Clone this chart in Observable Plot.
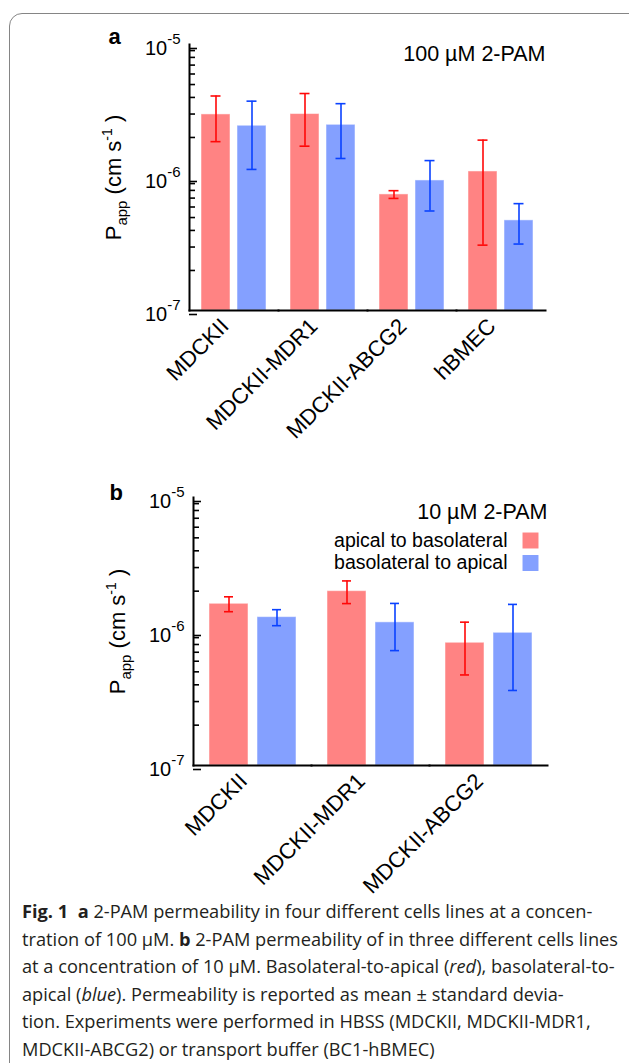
<!DOCTYPE html>
<html>
<head>
<meta charset="utf-8">
<script src="https://cdn.jsdelivr.net/npm/d3@7"></script>
<script src="https://cdn.jsdelivr.net/npm/@observablehq/plot@0.6"></script>
<style>
html, body { margin: 0; padding: 0; background: #fff; overflow: hidden; }
body { width: 629px; height: 1063px; position: relative; font-family: "Liberation Sans", Arial, sans-serif; }
#frame { position: absolute; left: 9px; top: 13px; width: 640px; height: 1070px; border: 1.4px solid #858585; border-radius: 13px; box-sizing: border-box; }
#panelA { position: absolute; left: 0; top: 0; }
#panelB { position: absolute; left: 0; top: 450px; }
#caption { position: absolute; left: 22px; top: 898px; font-family: "Open Sans", "Noto Sans", sans-serif; color: #231f20; line-height: 27.5px; white-space: nowrap; font-size: 17.5px; transform-origin: 0 0; }
#caption div { white-space: nowrap; }
</style>
</head>
<body>
<div id="frame"></div>
<div id="panelA"></div>
<div id="panelB"></div>
<div id="caption">
<div class="cl"><b>Fig. 1</b>&nbsp; <b>a</b> 2-PAM permeability in four different cells lines at a concen-</div>
<div class="cl">tration of 100 µM. <b>b</b> 2-PAM permeability of in three different cells lines</div>
<div class="cl">at a concentration of 10 µM. Basolateral-to-apical (<i>red</i>), basolateral-to-</div>
<div class="cl">apical (<i>blue</i>). Permeability is reported as mean ± standard devia-</div>
<div class="cl">tion. Experiments were performed in HBSS (MDCKII, MDCKII-MDR1,</div>
<div class="cl">MDCKII-ABCG2) or transport buffer (BC1-hBMEC)</div>
</div>
<script>
// ---- data ----
const directions = ["apical to basolateral", "basolateral to apical"];

const cellsA = ["MDCKII", "MDCKII-MDR1", "MDCKII-ABCG2", "hBMEC"];
const meanA_apBa = [2.98e-6, 3.00e-6, 0.746e-6, 1.11e-6];
const sdA_apBa   = [1.12e-6, 1.28e-6, 0.05e-6, 0.80e-6];
const meanA_baAp = [2.45e-6, 2.49e-6, 0.95e-6, 0.476e-6];
const sdA_baAp   = [1.30e-6, 1.10e-6, 0.39e-6, 0.16e-6];

const cellsB = ["MDCKII", "MDCKII-MDR1", "MDCKII-ABCG2"];
const meanB_apBa = [1.61e-6, 2.00e-6, 0.824e-6];
const sdB_apBa   = [0.205e-6, 0.385e-6, 0.35e-6];
const meanB_baAp = [1.28e-6, 1.17e-6, 0.978e-6];
const sdB_baAp   = [0.175e-6, 0.45e-6, 0.615e-6];

const titleA = "100 µM 2-PAM";
const titleB = "10 µM 2-PAM";
const yLabel = "P_app (cm s^-1)";
const yDomain = [1e-7, 1e-5];
const majorTicks = [1e-7, 1e-6, 1e-5];
const minorTicks = majorTicks.slice(0, -1).flatMap(t => d3.range(2, 10).map(k => k * t));
const seriesColors = ["#ff0808", "#0a42ff"];

function rows(cells, m1, s1, m2, s2) {
  return cells.flatMap((c, i) => [
    {cell: c, dir: directions[0], mean: m1[i], lo: m1[i] - s1[i], hi: m1[i] + s1[i]},
    {cell: c, dir: directions[1], mean: m2[i], lo: m2[i] - s2[i], hi: m2[i] + s2[i]}
  ]);
}

function panel(o) {
  const marks = [
    Plot.barY(o.data, {fx: "cell", x: "dir", y1: yDomain[0], y2: "mean", fill: "dir", fillOpacity: 0.5, stroke: "#fff", strokeOpacity: 0.5, strokeWidth: 1}),
    Plot.ruleX(o.data, {fx: "cell", x: "dir", y1: "lo", y2: "hi", stroke: "dir", strokeWidth: 1.6}),
    Plot.tickY(o.data, {fx: "cell", x: "dir", y: "hi", stroke: "dir", strokeWidth: 1.6, insetLeft: o.cap, insetRight: o.cap}),
    Plot.tickY(o.data, {fx: "cell", x: "dir", y: "lo", stroke: "dir", strokeWidth: 1.6, insetLeft: o.cap, insetRight: o.cap}),
    Plot.frame({anchor: "bottom", strokeWidth: 2, stroke: "#000"}),
    Plot.frame({anchor: "left", facetAnchor: "left", strokeWidth: 2, stroke: "#000"}),
    Plot.axisY(minorTicks, {anchor: "left", tickSize: -6, tickFormat: () => "", strokeWidth: 1.6, label: null}),
    Plot.axisY(majorTicks, {anchor: "left", tickSize: -8, tickPadding: 17, tickFormat: d => "10^" + Math.round(Math.log10(d)), fontSize: 20, strokeWidth: 1.6, dy: 4, label: null}),
    Plot.axisFx({anchor: "bottom", tickRotate: -45, tickSize: 0, tickPadding: 12, fontSize: 22, label: null, dx: -9}),
    Plot.text([yLabel], {text: d => d, frameAnchor: "left", facetAnchor: "left", rotate: -90, textAnchor: "middle", lineAnchor: "bottom", dx: -69, fontSize: 22}),
    Plot.text([o.letter], {text: d => d, frameAnchor: "top-left", facetAnchor: "left", textAnchor: "start", lineAnchor: "bottom", dx: o.letterDx, dy: o.letterDy, fontSize: 22, fontWeight: "bold"}),
    Plot.text([o.title], {text: d => d, frameAnchor: "top-right", facetAnchor: "right", textAnchor: "end", lineAnchor: "bottom", dy: o.titleDy, fontSize: 21.5})
  ];
  if (o.legend) {
    directions.forEach((d, i) => {
      marks.push(Plot.text([d], {text: v => v, frameAnchor: "top-right", facetAnchor: "right", textAnchor: "end", lineAnchor: "bottom", dx: -40, dy: 49 + i * 22, fontSize: 19.5}));
      marks.push(Plot.dot([d], {fill: v => v, fillOpacity: 0.5, symbol: "square", r: 9, frameAnchor: "top-right", facetAnchor: "right", dx: -17, dy: 43 + i * 22.5}));
    });
  }
  const svg = Plot.plot({
    width: 629,
    height: o.height,
    marginTop: o.mt, marginBottom: o.mb, marginLeft: o.ml, marginRight: o.mr,
    style: {fontFamily: "'Liberation Sans', Arial, sans-serif", color: "#000", background: "transparent", overflow: "visible"},
    fx: {domain: o.cells, padding: 0},
    x: {domain: directions, paddingInner: 0.19, paddingOuter: 0.3, axis: null},
    y: {type: "log", domain: yDomain},
    color: {domain: directions, range: seriesColors},
    marks
  });
  d3.select(svg).selectAll("text").each(function () {
    const t = this.textContent;
    const m = /^10\^(-?\d+)$/.exec(t);
    if (m) {
      this.textContent = "10";
      d3.select(this).append("tspan").attr("dy", -11).style("font-size", "15px").text(m[1]);
    } else if (t === yLabel) {
      this.textContent = "P";
      const s = d3.select(this);
      s.append("tspan").attr("dy", 6).style("font-size", "15px").text("app");
      s.append("tspan").attr("dy", -6).style("font-size", "22px").text(" (cm s");
      s.append("tspan").attr("dy", -9).style("font-size", "14px").text("-1");
      s.append("tspan").attr("dy", 9).style("font-size", "22px").text(" )");
    }
  });
  return svg;
}

document.getElementById("panelA").append(panel({
  cells: cellsA,
  data: rows(cellsA, meanA_apBa, sdA_apBa, meanA_baAp, sdA_baAp),
  height: 450, mt: 44, mb: 140, ml: 189, mr: 83.5,
  cap: 9.5, letter: "a", letterDx: -81, letterDy: -1, title: titleA, titleDy: 16, legend: false
}));
document.getElementById("panelB").append(panel({
  cells: cellsB,
  data: rows(cellsB, meanB_apBa, sdB_apBa, meanB_baAp, sdB_baAp),
  height: 450, mt: 47, mb: 135, ml: 192, mr: 81.5,
  cap: 15, letter: "b", letterDx: -84, letterDy: 2, title: titleB, titleDy: 21, legend: true
}));

// fit caption: the widest line spans the same width as in the reference
let maxW = 0;
document.querySelectorAll("#caption .cl").forEach(el => {
  const r = document.createRange();
  r.selectNodeContents(el);
  maxW = Math.max(maxW, r.getBoundingClientRect().width);
});
document.getElementById("caption").style.transform = `scaleX(${596 / maxW})`;
</script>
</body>
</html>
